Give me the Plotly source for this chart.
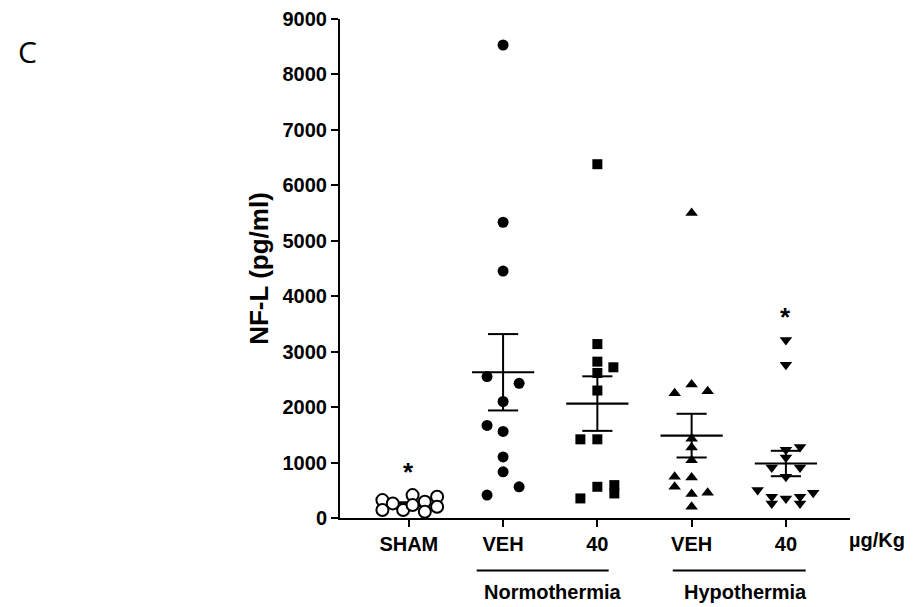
import numpy as np
import plotly.graph_objects as go

# ---- data (pg/ml) ----
categories = ["SHAM", "VEH", "40", "VEH", "40"]
sham = [323, 144, 263, 144, 413, 233, 293, 113, 383, 203]
normo_veh = [8531, 5334, 4454, 2550, 2430, 2101, 1670, 1562, 1101, 832, 563, 413]
normo_40 = [6381, 3137, 2820, 2718, 2616, 2299, 1419, 1419, 563, 593, 443, 353]
hypo_veh = [5501, 2407, 2287, 2250, 1431, 1270, 1042, 742, 731, 563, 455, 431, 203]
hypo_40 = [3209, 2766, 1233, 1281, 1090, 910, 910, 742, 503, 383, 263, 353, 383, 263, 455]

# horizontal scatter (jitter) of each point, in category units
sham_jit = [-0.28, -0.28, -0.17, -0.06, 0.04, 0.04, 0.17, 0.17, 0.30, 0.30]
normo_veh_jit = [0, 0, 0, -0.17, 0.17, 0, -0.17, 0, 0, 0, 0.17, -0.17]
normo_40_jit = [0, 0, 0, 0.17, 0, 0, -0.18, 0, 0, 0.18, 0.18, -0.18]
hypo_veh_jit = [0, 0, 0.17, -0.18, 0, 0, 0, -0.18, 0, -0.18, 0.17, 0, 0]
hypo_40_jit = [0, 0, 0, 0.15, 0, -0.15, 0.15, 0, -0.30, -0.15, -0.15, 0, 0.15, 0.15, 0.29]

groups = [sham, normo_veh, normo_40, hypo_veh, hypo_40]
jitters = [sham_jit, normo_veh_jit, normo_40_jit, hypo_veh_jit, hypo_40_jit]
symbols = ["circle-open", "circle", "square", "triangle-up", "triangle-down"]
sizes = [12, 11, 10, 11, 11]
starred = [0, 4]

FONT = "Liberation Sans"
fig = go.Figure()

# mean +/- SEM
mx, my = [], []
sx, sy = [], []
for i, g in enumerate(groups):
    v = np.array(g, dtype=float)
    m = v.mean()
    sem = v.std(ddof=1) / np.sqrt(len(v))
    mx += [i - 0.33, i + 0.33, None]
    my += [m, m, None]
    sx += [i, i, None, i - 0.16, i + 0.16, None, i - 0.16, i + 0.16, None]
    sy += [m - sem, m + sem, None, m + sem, m + sem, None, m - sem, m - sem, None]

fig.add_trace(go.Scatter(x=mx, y=my, mode="lines", line=dict(color="black", width=2.2),
                         hoverinfo="skip", showlegend=False))
fig.add_trace(go.Scatter(x=sx, y=sy, mode="lines", line=dict(color="black", width=2),
                         hoverinfo="skip", showlegend=False))

for i, (g, j) in enumerate(zip(groups, jitters)):
    xs = [i + d for d in j]
    if symbols[i] == "circle-open":
        marker = dict(symbol="circle", size=sizes[i], color="white",
                      line=dict(color="black", width=2))
    else:
        marker = dict(symbol=symbols[i], size=sizes[i], color="black",
                      line=dict(width=0))
    fig.add_trace(go.Scatter(x=xs, y=g, mode="markers", marker=marker, showlegend=False,
                             cliponaxis=False))

annotations = []
for i in starred:
    annotations.append(dict(x=i, y=max(groups[i]) + 420, xref="x", yref="y", text="*",
                            showarrow=False, xanchor="center", yanchor="middle",
                            font=dict(family=FONT, size=26, color="black", weight="bold")))

BOLD20 = dict(family=FONT, size=20, color="black", weight="bold")
annotations += [
    dict(x=-0.612, y=0.935, xref="paper", yref="paper", text="C", showarrow=False,
         xanchor="center", yanchor="middle",
         font=dict(family="Open Sans", size=30, color="black")),
    dict(x=1.053, y=-0.044, xref="paper", yref="paper", text="µg/Kg",
         showarrow=False, xanchor="center", yanchor="middle", font=BOLD20),
    dict(x=1.53, y=-0.149, xref="x", yref="paper", text="Normothermia",
         showarrow=False, xanchor="center", yanchor="middle", font=BOLD20),
    dict(x=3.57, y=-0.149, xref="x", yref="paper", text="Hypothermia",
         showarrow=False, xanchor="center", yanchor="middle", font=BOLD20),
]

shapes = [
    dict(type="line", xref="x", yref="paper", x0=0.72, x1=2.12, y0=-0.105, y1=-0.105,
         line=dict(color="black", width=2)),
    dict(type="line", xref="x", yref="paper", x0=2.80, x1=4.21, y0=-0.105, y1=-0.105,
         line=dict(color="black", width=2)),
]

fig.update_layout(
    width=923, height=607,
    margin=dict(l=332, r=81, t=11, b=97),
    paper_bgcolor="white", plot_bgcolor="white",
    annotations=annotations, shapes=shapes,
    font=dict(family=FONT, color="black"),
)
fig.update_xaxes(
    range=[-0.73, 4.68], tickvals=list(range(5)), ticktext=categories,
    showline=True, linecolor="black", linewidth=2, ticks="outside", ticklen=7, tickwidth=2,
    tickcolor="black", showgrid=False, zeroline=False, automargin=False,
    tickfont=BOLD20,
)
fig.update_yaxes(
    range=[0, 9000], tickvals=list(range(0, 9001, 1000)),
    showline=True, linecolor="black", linewidth=2, ticks="outside", ticklen=7, tickwidth=2,
    tickcolor="black", showgrid=False, zeroline=False, automargin=False,
    ticklabeloverflow="allow",
    tickfont=BOLD20,
    title=dict(text="NF-L (pg/ml)", font=dict(family=FONT, size=26, color="black", weight="bold"),
               standoff=6),
)

fig.write_html("out.html")
